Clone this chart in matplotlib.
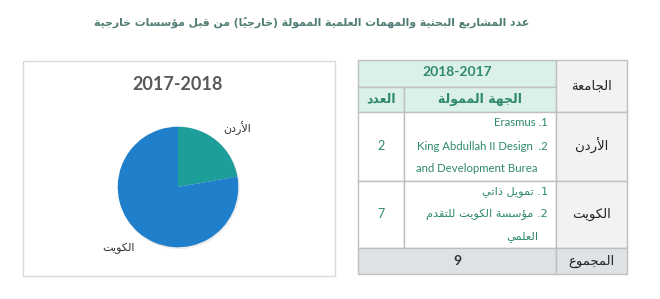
import matplotlib
matplotlib.use("Agg")
import matplotlib.pyplot as plt
from matplotlib.patches import Rectangle, Circle

# ---- data ----
title = "عدد المشاريع البحثية والمهمات العلمية الممولة (خارجياً) من قبل مؤسسات خارجية"
pie_title = "2017-2018"
universities = ["الأردن", "الكويت"]
counts = [2, 7]
pie_colors = ["#1d9e9a", "#1f7fcb"]
year_header = "2018-2017"
col_university = "الجامعة"
col_funder = "الجهة الممولة"
col_count = "العدد"
total_label = "المجموع"
# each funder: (number, first line, continuation line or None, is_arabic, gap)
funders = [
    [("1", "Erasmus", None, False, " "),
     ("2", "King Abdullah II Design", "and Development Burea", False, "  ")],
    [("1", "تمويل ذاتي", None, True, " "),
     ("2", "مؤسسة الكويت للتقدم", "العلمي", True, " ")],
]

# ---- minimal arabic shaping (presentation forms + RTL order) ----
FORMS = {
    0x0621: (0xFE80, 1), 0x0622: (0xFE81, 2), 0x0623: (0xFE83, 2), 0x0624: (0xFE85, 2),
    0x0625: (0xFE87, 2), 0x0626: (0xFE89, 4), 0x0627: (0xFE8D, 2), 0x0628: (0xFE8F, 4),
    0x0629: (0xFE93, 2), 0x062A: (0xFE95, 4), 0x062B: (0xFE99, 4), 0x062C: (0xFE9D, 4),
    0x062D: (0xFEA1, 4), 0x062E: (0xFEA5, 4), 0x062F: (0xFEA9, 2), 0x0630: (0xFEAB, 2),
    0x0631: (0xFEAD, 2), 0x0632: (0xFEAF, 2), 0x0633: (0xFEB1, 4), 0x0634: (0xFEB5, 4),
    0x0635: (0xFEB9, 4), 0x0636: (0xFEBD, 4), 0x0637: (0xFEC1, 4), 0x0638: (0xFEC5, 4),
    0x0639: (0xFEC9, 4), 0x063A: (0xFECD, 4), 0x0641: (0xFED1, 4), 0x0642: (0xFED5, 4),
    0x0643: (0xFED9, 4), 0x0644: (0xFEDD, 4), 0x0645: (0xFEE1, 4), 0x0646: (0xFEE5, 4),
    0x0647: (0xFEE9, 4), 0x0648: (0xFEED, 2), 0x0649: (0xFEEF, 2), 0x064A: (0xFEF1, 4),
}
LAM_ALEF = {0x0622: 0xFEF5, 0x0623: 0xFEF7, 0x0625: 0xFEF9, 0x0627: 0xFEFB}
MIRROR = {"(": ")", ")": "("}


def ar(s):
    clusters = []
    for c in s:
        if 0x064B <= ord(c) <= 0x0652 and clusters:
            clusters[-1][2] += c
        else:
            clusters.append(["c", c, ""])
    items = []
    i = 0
    while i < len(clusters):
        k, c, m = clusters[i]
        if ord(c) == 0x0644 and not m and i + 1 < len(clusters) and ord(clusters[i + 1][1]) in LAM_ALEF:
            items.append(["la", clusters[i + 1][1], clusters[i + 1][2]])
            i += 2
        else:
            items.append(clusters[i])
            i += 1

    def jt(it):
        if it[0] == "la":
            return "R"
        f = FORMS.get(ord(it[1]))
        if f is None:
            return "U"
        return {4: "D", 2: "R", 1: "U"}[f[1]]

    out = []
    for i, it in enumerate(items):
        t = jt(it)
        prev = i > 0 and jt(items[i - 1]) == "D"
        nxt = t == "D" and i + 1 < len(items) and jt(items[i + 1]) in ("D", "R")
        if it[0] == "la":
            g = chr(LAM_ALEF[ord(it[1])] + (1 if prev else 0))
        elif t == "U":
            g = MIRROR.get(it[1], it[1]) if ord(it[1]) not in FORMS else chr(FORMS[ord(it[1])][0])
        elif t == "R":
            g = chr(FORMS[ord(it[1])][0] + (1 if prev else 0))
        else:
            idx = 3 if (prev and nxt) else 1 if prev else 2 if nxt else 0
            g = chr(FORMS[ord(it[1])][0] + idx)
        out.append(g + it[2])
    return "".join(reversed(out))


# ---- figure ----
W, H = 660, 299
fig = plt.figure(figsize=(6.6, 2.99), dpi=100)
ax = fig.add_axes([0, 0, 1, 1])
ax.set_xlim(0, W)
ax.set_ylim(H, 0)
ax.axis("off")

AR = "DejaVu Sans"
LAT = "Lato"
teal = "#2f8a6c"

ax.text(312, 22, ar(title), ha="center", va="center", fontsize=7.8,
        family=AR, color="#4f7d76", weight="bold")

# pie box
ax.add_patch(Rectangle((23, 61), 312, 215, facecolor="white", edgecolor="#d9d9d9", lw=1))
ax.text(178, 84, pie_title, ha="center", va="center", fontsize=13, family=LAT,
        weight="bold", color="#595959")

pax = fig.add_axes([114 / W, (H - 251) / H, 128 / W, 128 / H])
pax.add_patch(Circle((0.015, -0.02), 0.98, facecolor="#9a9a9a", alpha=0.18, lw=0, zorder=0))
pax.pie(counts, colors=pie_colors, startangle=90, counterclock=False,
        wedgeprops=dict(linewidth=0, zorder=1), radius=0.97)
pax.set_xlim(-1.03, 1.03)
pax.set_ylim(-1.03, 1.03)
pax.axis("off")
ax.text(237, 128, ar(universities[0]), ha="center", va="center", fontsize=8, family=AR, color="#333333")
ax.text(118, 248, ar(universities[1]), ha="center", va="center", fontsize=8, family=AR, color="#333333")

# table
xs = [358, 404, 556, 627]
ys = [60, 87, 112, 181, 248, 274]
mint = "#daf0e9"
grey = "#f2f2f2"
totbg = "#dee2e5"
border = "#bfbfbf"


def cell(x0, x1, y0, y1, fc):
    ax.add_patch(Rectangle((x0, y0), x1 - x0, y1 - y0, facecolor=fc, edgecolor=border, lw=1))


cell(xs[0], xs[2], ys[0], ys[1], mint)
cell(xs[0], xs[1], ys[1], ys[2], mint)
cell(xs[1], xs[2], ys[1], ys[2], mint)
cell(xs[2], xs[3], ys[0], ys[2], grey)
for r in range(2):
    cell(xs[0], xs[1], ys[2 + r], ys[3 + r], "white")
    cell(xs[1], xs[2], ys[2 + r], ys[3 + r], "white")
    cell(xs[2], xs[3], ys[2 + r], ys[3 + r], grey)
cell(xs[0], xs[2], ys[4], ys[5], totbg)
cell(xs[2], xs[3], ys[4], ys[5], totbg)

ax.text((xs[0] + xs[2]) / 2, 72, year_header, ha="center", va="center", fontsize=10,
        family=LAT, weight="bold", color=teal)
ax.text((xs[0] + xs[1]) / 2, 99, ar(col_count), ha="center", va="center", fontsize=9,
        family=AR, weight="bold", color=teal)
ax.text((xs[1] + xs[2]) / 2, 99, ar(col_funder), ha="center", va="center", fontsize=9,
        family=AR, weight="bold", color=teal)
ax.text((xs[2] + xs[3]) / 2, 86, ar(col_university), ha="center", va="center", fontsize=9.5,
        family=AR, color="#222222")

row_mid = [146, 214]
line_ys = [[123, 146, 168], [192, 214, 237]]
for r, uni in enumerate(universities):
    ax.text((xs[2] + xs[3]) / 2, row_mid[r], ar(uni), ha="center", va="center", fontsize=9.5,
            family=AR, color="#222222")
    ax.text((xs[0] + xs[1]) / 2, row_mid[r], str(counts[r]), ha="center", va="center",
            fontsize=9, family=LAT, color=teal)
    li = 0
    for num, first, cont, is_ar, gap in funders[r]:
        fam = AR if is_ar else LAT
        txt = (ar(first) if is_ar else first) + gap + "." + num
        ax.text(548, line_ys[r][li], txt, ha="right", va="center", fontsize=8.2,
                family=fam, color=teal)
        li += 1
        if cont:
            ax.text(538, line_ys[r][li], ar(cont) if is_ar else cont, ha="right", va="center",
                    fontsize=8.2, family=fam, color=teal)
            li += 1

ax.text((xs[0] + xs[2]) / 2, 261, str(sum(counts)), ha="center", va="center", fontsize=10,
        family=LAT, weight="bold", color="#333333")
ax.text((xs[2] + xs[3]) / 2, 261, ar(total_label), ha="center", va="center", fontsize=9.5,
        family=AR, color="#222222")

fig.savefig("out.png", dpi=100)
